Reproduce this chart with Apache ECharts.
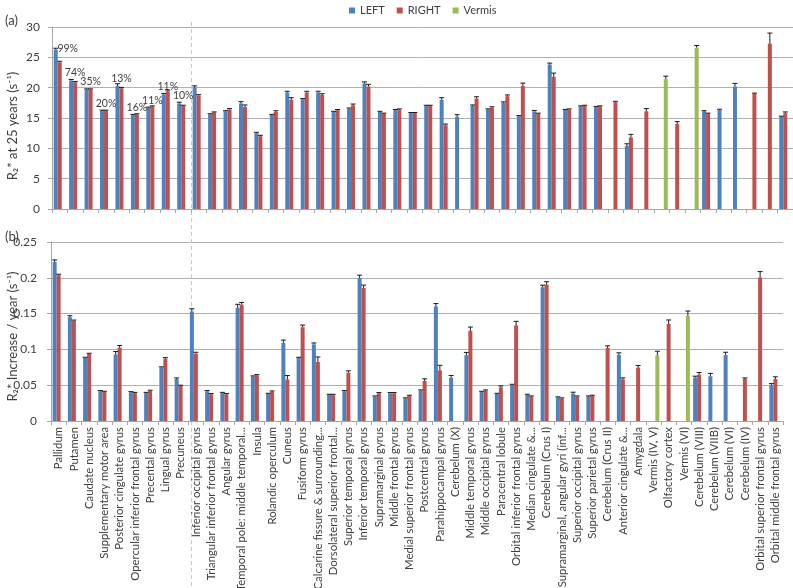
<!DOCTYPE html>
<html><head><meta charset="utf-8">
<script src="https://cdn.jsdelivr.net/npm/echarts@6/dist/echarts.min.js"></script>
<style>html,body{margin:0;padding:0;background:#fff}#c{width:793px;height:588px}</style>
</head><body><div id="c"></div>
<script>
const categories = ['Pallidum','Putamen','Caudate nucleus','Supplementary motor area','Posterior cingulate gyrus','Opercular inferior frontal gyrus','Precental gyrus','Lingual gyrus','Precuneus','Inferior occipital gyrus','Triangular inferior frontal gyrus','Angular gyrus','Temporal pole: middle temporal...','Insula','Rolandic operculum','Cuneus','Fusiform gyrus','Calcarine fissure & surrounding...','Dorsolateral superior frontal...','Superior temporal gyrus','Inferior temporal gyrus','Supramarginal gyrus','Middle frontal gyrus','Medial superior frontal gyrus','Postcentral gyrus','Parahippocampal gyrus','Cerebelum (X)','Middle temporal gyrus','Middle occipital gyrus','Paracentral lobule','Orbital inferior frontal gyrus','Median cingulate &...','Cerebelum (Crus I)','Supramarginal, angular gyri (inf...','Superior occipital gyrus','Superior parietal gyrus','Cerebelum (Crus II)','Anterior cingulate &...','Amygdala','Vermis (IV, V)','Olfactory cortex','Vermis (VI)','Cerebelum (VIII)','Cerebelum (VIIB)','Cerebelum (VI)','Cerebelum (IV)','Orbital superior frontal gyrus','Orbital middle frontal gyrus'];

// (a) R2* at 25 years
const r25Left = [26.3,21.2,19.7,16.2,20.3,15.5,16.7,18.9,17.4,20.0,15.6,16.1,17.4,12.5,15.5,19.2,18.1,19.2,16.0,16.5,20.7,16.0,16.3,15.8,17.0,18.0,15.2,17.0,16.4,17.5,15.3,16.1,23.8,16.3,16.9,16.8,null,10.4,null,null,null,null,16.1,16.3,20.2,null,null,15.2];
const r25Right = [24.2,20.9,19.7,16.2,19.9,15.6,16.9,19.4,17.0,18.7,15.9,16.4,16.8,12.0,16.0,18.0,19.2,18.8,16.3,17.1,20.2,15.7,16.4,15.8,17.0,13.8,null,18.2,16.7,18.6,20.3,15.7,21.8,16.4,17.0,16.9,17.6,11.8,16.1,null,14.0,null,15.7,null,null,19.0,27.3,15.8];
const r25Vermis = [null,null,null,null,null,null,null,null,null,null,null,null,null,null,null,null,null,null,null,null,null,null,null,null,null,null,null,null,null,null,null,null,null,null,null,null,null,null,null,21.4,null,26.6,null,null,null,null,null,null];
const r25LeftErr = [0.2,0.15,0.1,0.1,0.35,0.1,0.1,0.15,0.2,0.3,0.1,0.1,0.3,0.15,0.1,0.2,0.1,0.2,0.1,0.15,0.25,0.1,0.1,0.1,0.1,0.35,0.35,0.15,0.1,0.15,0.1,0.15,0.25,0.1,0.1,0.1,null,0.35,null,null,null,null,0.1,0.15,0.5,null,null,0.1];
const r25RightErr = [0.15,0.1,0.1,0.1,0.15,0.1,0.1,0.2,0.1,0.15,0.1,0.15,0.35,0.15,0.2,0.35,0.2,0.2,0.1,0.2,0.35,0.1,0.1,0.1,0.1,0.2,null,0.3,0.15,0.2,0.45,0.1,0.6,0.1,0.1,0.1,0.15,0.5,0.45,null,0.4,null,0.1,null,null,0.1,1.7,0.2];
const r25VermisErr = [null,null,null,null,null,null,null,null,null,null,null,null,null,null,null,null,null,null,null,null,null,null,null,null,null,null,null,null,null,null,null,null,null,null,null,null,null,null,null,0.5,null,0.35,null,null,null,null,null,null];
const pctLabels = ['99%','74%','35%','20%','13%','16%','11%','11%','10%'];

// (b) R2* increase / year
const incLeft = [0.222,0.145,0.088,0.0415,0.093,0.040,0.039,0.0746,0.0587,0.1528,0.0415,0.039,0.158,0.062,0.0377,0.109,0.088,0.107,0.0363,0.0415,0.1997,0.034,0.0387,0.0313,0.0424,0.160,0.0606,0.0918,0.0405,0.0377,0.0503,0.0363,0.1867,0.0327,0.0382,0.034,null,0.0922,null,null,null,null,0.0606,0.0625,0.092,null,null,0.0502];
const incRight = [0.2035,0.140,0.0936,0.0405,0.1025,0.039,0.042,0.087,0.049,0.094,0.0373,0.0373,0.1626,0.0638,0.041,0.058,0.131,0.0824,0.0363,0.0676,0.1858,0.0387,0.0387,0.035,0.0559,0.0708,null,0.1262,0.0424,0.047,0.1336,0.034,0.1905,0.0313,0.034,0.035,0.102,0.0582,0.0746,null,0.1355,null,0.0648,null,null,0.0592,0.2003,0.0587];
const incVermis = [null,null,null,null,null,null,null,null,null,null,null,null,null,null,null,null,null,null,null,null,null,null,null,null,null,null,null,null,null,null,null,null,null,null,null,null,null,null,null,0.0918,null,0.1466,null,null,null,null,null,null];
const incLeftErr = [0.003,0.002,0.001,0.001,0.004,0.001,0.001,0.001,0.0015,0.004,0.001,0.001,0.005,0.001,0.001,0.004,0.001,0.002,0.001,0.001,0.004,0.001,0.001,0.001,0.001,0.004,0.003,0.004,0.001,0.001,0.001,0.001,0.003,0.001,0.002,0.001,null,0.003,null,null,null,null,0.002,0.004,0.004,null,null,0.002];
const incRightErr = [0.0015,0.001,0.001,0.001,0.003,0.001,0.001,0.0015,0.001,0.002,0.001,0.001,0.003,0.001,0.001,0.0055,0.003,0.007,0.001,0.0025,0.004,0.001,0.001,0.001,0.003,0.007,null,0.005,0.001,0.002,0.0056,0.001,0.004,0.001,0.001,0.001,0.003,0.002,0.003,null,0.0056,null,0.003,null,null,0.001,0.0084,0.003];
const incVermisErr = [null,null,null,null,null,null,null,null,null,null,null,null,null,null,null,null,null,null,null,null,null,null,null,null,null,null,null,null,null,null,null,null,null,null,null,null,null,null,null,0.0056,null,0.007,null,null,null,null,null,null];

const COL = {LEFT:'#4f81bd', RIGHT:'#c0504d', Vermis:'#9bbb59'};
const FONT = 'Lato';
const TXT = '#404040';
const BW = 4;

function errData(vals, errs){
  const out = [];
  vals.forEach((v,i)=>{ if(v!=null && errs[i]!=null) out.push([i, v, errs[i]]); });
  return out;
}
function errRender(offset){
  return function(params, api){
    const i = api.value(0), v = api.value(1), e = api.value(2);
    const p0 = api.coord([i, v]); const p1 = api.coord([i, v+e]);
    const x = p0[0] + offset;
    return {type:'group', children:[
      {type:'line', shape:{x1:x,y1:p0[1],x2:x,y2:p1[1]}, style:{stroke:'#1a1a1a',lineWidth:1}},
      {type:'line', shape:{x1:x-2.5,y1:p1[1],x2:x+2.5,y2:p1[1]}, style:{stroke:'#1a1a1a',lineWidth:1}}
    ]};
  };
}
function bar(name, data, gi){
  return {name, type:'bar', xAxisIndex:gi, yAxisIndex:gi, data, barWidth:BW, barGap:'0%',
    itemStyle:{color:COL[name]}, animation:false, z:2};
}
function err(name, vals, errs, gi, offset){
  return {name:name+'_err'+gi, type:'custom', xAxisIndex:gi, yAxisIndex:gi, data:errData(vals, errs),
    encode:{x:0,y:1}, renderItem:errRender(offset), animation:false, z:5, silent:true};
}

const leftTop = r25Left.map((v,i)=>{
  if (i < pctLabels.length) {
    return {value:v, label:{show:true, position:'top', formatter:pctLabels[i],
      offset: i===0 ? [12,10] : [4,3], fontSize:10.5, fontFamily:FONT, color:TXT}};
  }
  return v;
});

function xAx(gi, showLabels){
  return {type:'category', gridIndex:gi, data:categories, boundaryGap:true,
    axisLine:{lineStyle:{color:'#a6a6a6'}},
    axisTick:{show:true, length:4, lineStyle:{color:'#a6a6a6'}},
    axisLabel:{show:showLabels, interval:0, rotate:90, fontSize:11.3, fontFamily:FONT, color:TXT, margin:6}};
}
function yAx(gi, max, interval, name, gap, pad){
  return {type:'value', gridIndex:gi, min:0, max, interval,
    name, nameLocation:'middle', nameRotate:90, nameGap:gap, nameMoveOverlap:false,
    nameTextStyle:{fontSize:13, fontFamily:FONT, color:TXT, padding:pad},
    axisLine:{show:true, lineStyle:{color:'#a6a6a6'}},
    axisTick:{show:true, length:4, lineStyle:{color:'#a6a6a6'}},
    axisLabel:{fontSize:12, fontFamily:FONT, color:TXT, margin:gi===0?12:14},
    splitLine:{lineStyle:{color:'#b0b0b0', width:1}}};
}

const chart = echarts.init(document.getElementById('c'), null, {renderer:'canvas'});
chart.setOption({
  animation:false,
  backgroundColor:'#fff',
  textStyle:{fontFamily:FONT},
  legend:{data:['LEFT','RIGHT','Vermis'], left:344, top:0, icon:'rect', itemWidth:6, itemHeight:6, itemGap:12,
    textStyle:{fontSize:11, fontFamily:FONT, color:TXT}},
  title:[
    {text:'(a)', left:0, top:9, textStyle:{fontSize:13, fontWeight:'normal', fontFamily:FONT, color:TXT}},
    {text:'(b)', left:0, top:225, textStyle:{fontSize:13, fontWeight:'normal', fontFamily:FONT, color:TXT}}
  ],
  grid:[
    {left:52, top:27, width:741, height:182, containLabel:false, outerBoundsMode:'none'},
    {left:51, top:242, width:732, height:179, containLabel:false, outerBoundsMode:'none'}
  ],
  xAxis:[xAx(0,false), xAx(1,true)],
  yAxis:[
    yAx(0, 30, 5, 'R\u2082* at 25 years (s\u207B\u00B9)', 33, [0,16,0,0]),
    yAx(1, 0.25, 0.05, 'R\u2082* Increase / year (s\u207B\u00B9)', 32, [0,10,0,0])
  ],
  series:[
    bar('LEFT', leftTop, 0), bar('RIGHT', r25Right, 0), bar('Vermis', r25Vermis, 0),
    bar('LEFT', incLeft, 1), bar('RIGHT', incRight, 1), bar('Vermis', incVermis, 1),
    err('LEFT', r25Left, r25LeftErr, 0, -BW), err('RIGHT', r25Right, r25RightErr, 0, 0), err('Vermis', r25Vermis, r25VermisErr, 0, BW),
    err('LEFT', incLeft, incLeftErr, 1, -BW), err('RIGHT', incRight, incRightErr, 1, 0), err('Vermis', incVermis, incVermisErr, 1, BW)
  ]
});
const xa = chart.convertToPixel({xAxisIndex:0}, 8), xb = chart.convertToPixel({xAxisIndex:0}, 9);
const xd = Math.round((xa+xb)/2) + 0.5;
chart.setOption({graphic:[{type:'line', shape:{x1:xd,y1:22,x2:xd,y2:588}, style:{stroke:'#c8c8c8', lineWidth:1, lineDash:[4,3]}, z:0, silent:true}]});
</script>
</body></html>
